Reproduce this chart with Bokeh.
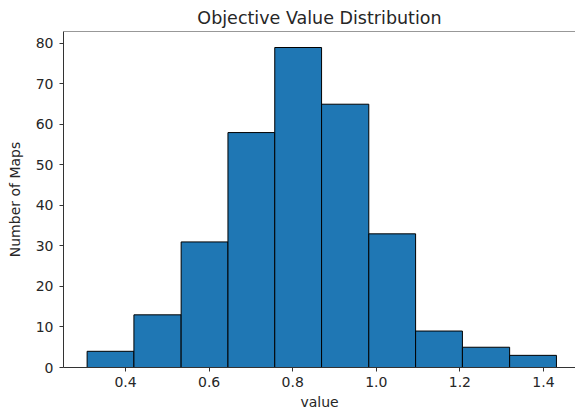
from bokeh.plotting import figure
from bokeh.models import Range1d, FixedTicker, Span
from bokeh.embed import file_html
from bokeh.resources import INLINE

# Histogram data
bin_edges = [0.308, 0.420, 0.533, 0.645, 0.757, 0.869, 0.982, 1.094, 1.206, 1.319, 1.431]
counts = [4, 13, 31, 58, 79, 65, 33, 9, 5, 3]
x_ticks = [0.4, 0.6, 0.8, 1.0, 1.2, 1.4]
x_tick_labels = ["0.4", "0.6", "0.8", "1.0", "1.2", "1.4"]
y_ticks = [0, 10, 20, 30, 40, 50, 60, 70, 80]

lefts = bin_edges[:-1]
rights = bin_edges[1:]
y_top = max(counts) * 1.05

FONT = "DejaVu Sans"
TXT = "#262626"

p = figure(width=575, height=414, output_backend="svg", toolbar_location=None,
           x_range=Range1d(0.2515, 1.4766), y_range=Range1d(0, y_top),
           title="Objective Value Distribution",
           min_border_left=63, min_border_right=0, min_border_top=31, min_border_bottom=47)

p.quad(left=lefts, right=rights, bottom=0, top=counts,
       fill_color="#1f77b4", line_color="black", line_width=1)

p.outline_line_color = None
p.xgrid.visible = False
p.ygrid.visible = False
p.background_fill_color = "white"
p.border_fill_color = "white"

p.add_layout(Span(location=y_top, dimension="width", line_color="#333333", line_width=1))

p.title.text_font = FONT
p.title.text_font_size = "17.5px"
p.title.text_font_style = "normal"
p.title.text_color = TXT
p.title.align = "center"
p.title.offset = -4
p.title.standoff = 8

for ax in (p.xaxis[0], p.yaxis[0]):
    ax.axis_line_color = "#333333"
    ax.axis_line_width = 1
    ax.major_tick_line_color = "#333333"
    ax.major_tick_out = 4
    ax.major_tick_in = 0
    ax.minor_tick_line_color = None
    ax.major_label_text_font = FONT
    ax.major_label_text_font_size = "14px"
    ax.major_label_text_color = TXT
    ax.axis_label_text_font = FONT
    ax.axis_label_text_font_size = "14px"
    ax.axis_label_text_font_style = "normal"
    ax.axis_label_text_color = TXT

p.xaxis.ticker = FixedTicker(ticks=x_ticks)
p.xaxis.major_label_overrides = {t: l for t, l in zip(x_ticks, x_tick_labels)}
p.yaxis.ticker = FixedTicker(ticks=y_ticks)
p.xaxis.axis_label = "value"
p.yaxis.axis_label = "Number of Maps"
p.xaxis.major_label_standoff = 5
p.yaxis.major_label_standoff = 6
p.xaxis.axis_label_standoff = 4
p.yaxis.axis_label_standoff = 10

open("out.html", "w").write(file_html(p, INLINE))
